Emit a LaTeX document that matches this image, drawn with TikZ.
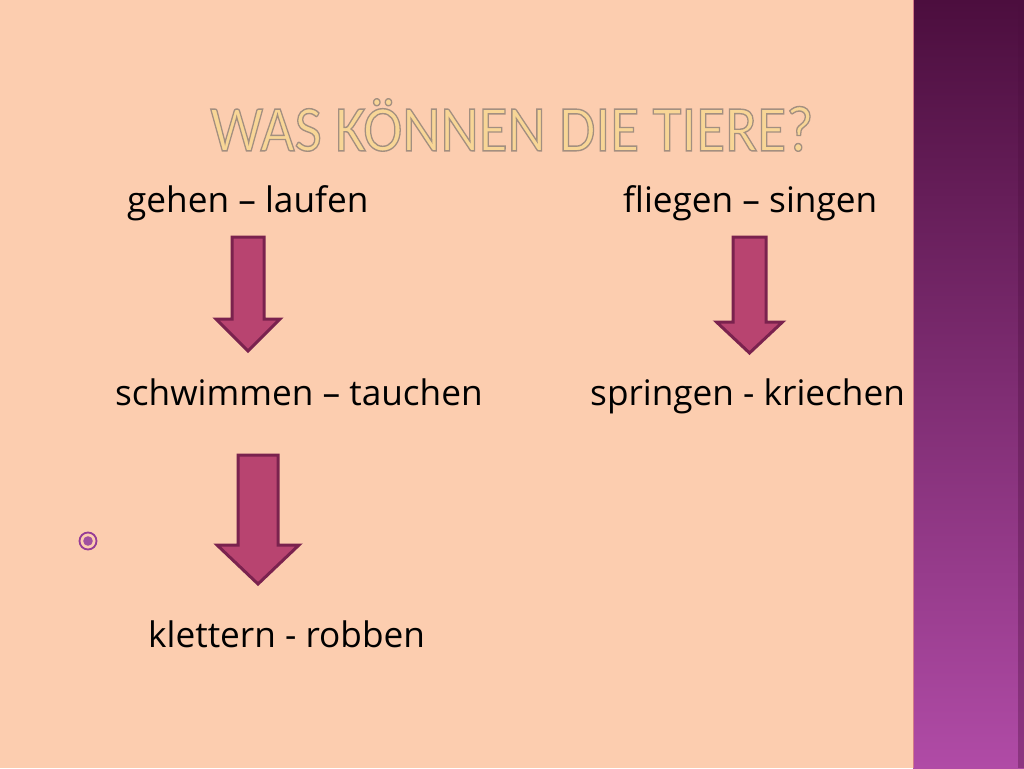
\documentclass[tikz,border=0pt]{standalone}
\usepackage{fontspec}
\setmainfont{Open Sans}
\newfontfamily\titelschrift{Carlito}
\definecolor{folie}{RGB}{252,205,175}
\definecolor{pfeilrot}{RGB}{184,68,112}
\definecolor{pfeilrand}{RGB}{122,34,78}
\definecolor{leisteoben}{RGB}{76,14,62}
\definecolor{leisteunten}{RGB}{176,75,166}
\definecolor{titelfarbe}{RGB}{248,214,150}
\definecolor{punkt}{RGB}{150,60,150}
% Umrissschrift: Buchstaben fuellen und mit grauem Rand zeichnen
\newcommand{\umriss}[1]{\textcolor{titelfarbe}{\special{pdf:literal direct 2 Tr 1.4 w 0.64 0.56 0.50 RG}#1\special{pdf:literal direct 0 Tr}}}
\tikzset{
  titel/.style={inner sep=0pt,xscale=0.91,font=\titelschrift\fontsize{65}{68}\selectfont},
  verb/.style={anchor=base west,font=\fontsize{35.2}{40}\selectfont,text=black,inner sep=0pt},
  pfeil/.style={fill=pfeilrot,draw=pfeilrand,line width=3pt,line join=miter}
}
\newcommand{\blockpfeil}[6]{% x-links, x-rechts, oben, kopf-basis, kopf-halbbreite, spitze
  \draw[pfeil] (#1,#3) -- (#2,#3) -- (#2,#4) -- ({(#1+#2)/2+#5},#4)
    -- ({(#1+#2)/2},#6) -- ({(#1+#2)/2-#5},#4) -- (#1,#4) -- cycle;}
\begin{document}
\begin{tikzpicture}[x=1pt,y=-1pt]
\useasboundingbox (0,0) rectangle (1024,768);
\fill[folie] (0,0) rectangle (1024,768);
% Leiste rechts
\shade[top color=leisteoben,bottom color=leisteunten] (913,0) rectangle (1024,768);
\fill[leisteoben,opacity=0.35] (1018,0) rectangle (1024,768);
\draw[pfeilrot!60!folie,line width=1pt] (913.5,0) -- (913.5,768);
% Titel
\node[titel] (titel) at (512,125) {\umriss{WAS KÖNNEN DIE TIERE?}};
% Verben
\node[verb] (gehen) at (127,212) {gehen – laufen};
\node[verb] (fliegen) at (623,212) {fliegen – singen};
\node[verb] (schwimmen) at (115,405) {schwimmen – tauchen};
\node[verb] (springen) at (590,405) {springen - kriechen};
\node[verb] (klettern) at (148,647) {klettern - robben};
% Pfeile
\blockpfeil{232}{264}{237}{319}{32}{351}
\blockpfeil{733}{766}{237}{322}{33}{353}
\blockpfeil{238}{278}{455}{545}{41}{584}
% Aufzaehlungszeichen
\draw[punkt,line width=1.8pt] (88,541) circle (8.5);
\fill[punkt!90!white] (88,541) circle (4.8);
\end{tikzpicture}
\end{document}
